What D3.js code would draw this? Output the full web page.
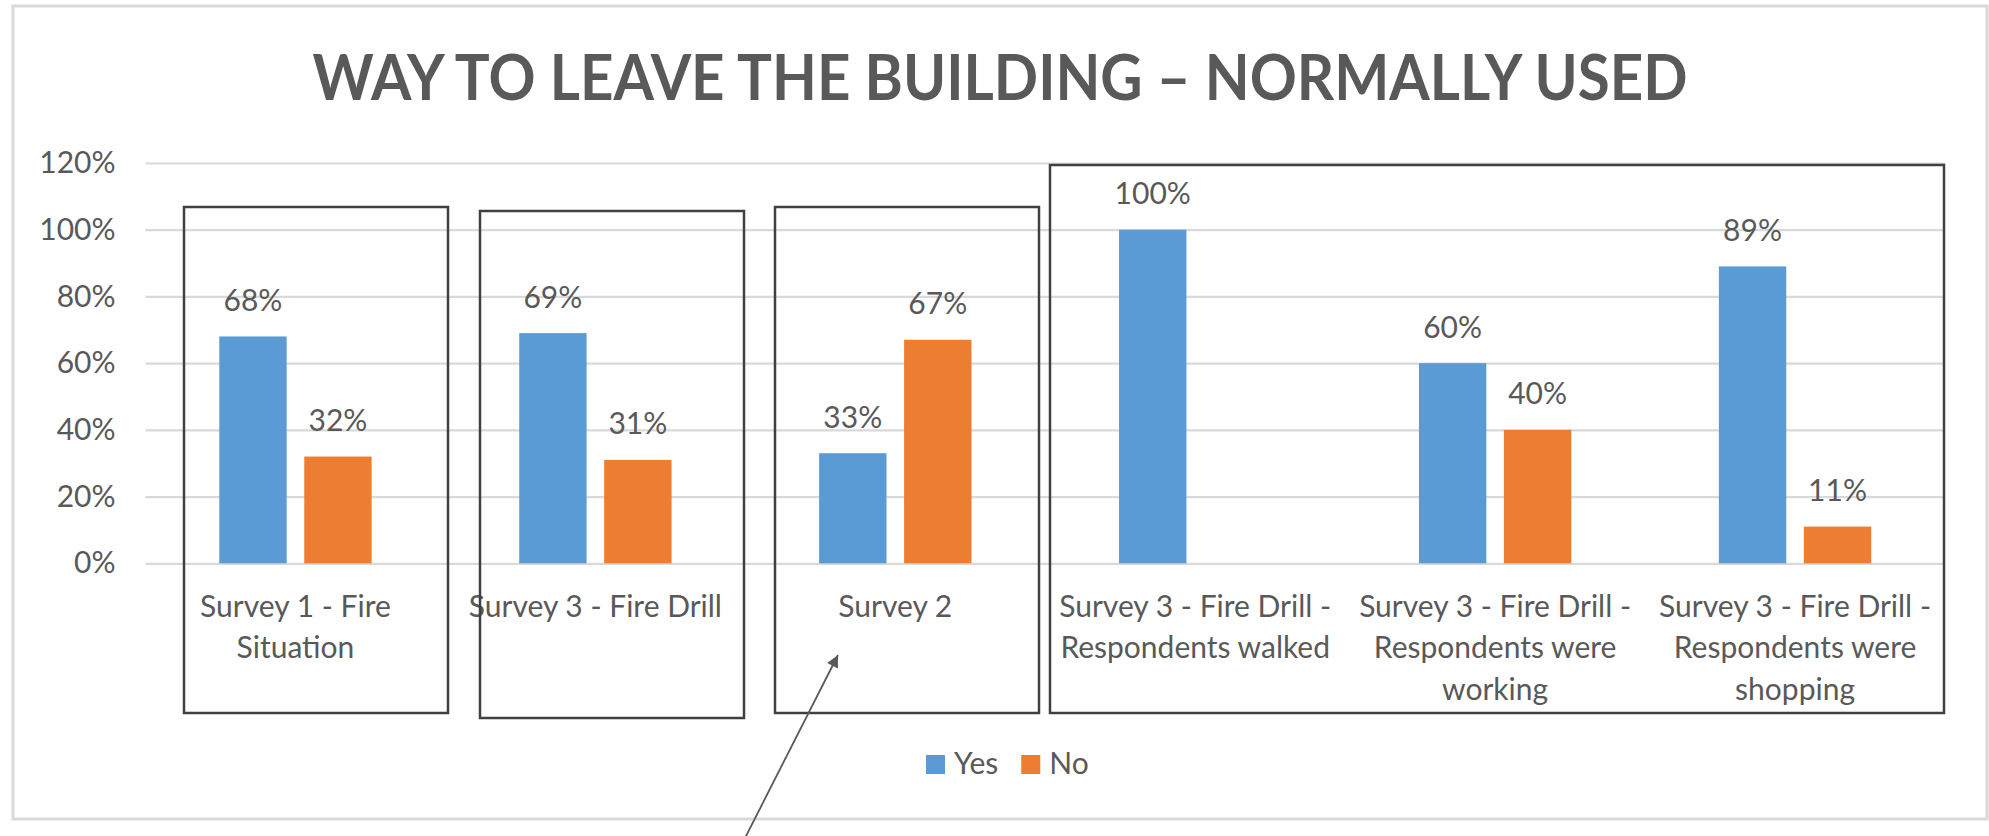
<!DOCTYPE html>
<html>
<head>
<meta charset="utf-8">
<script src="https://cdn.jsdelivr.net/npm/d3@7"></script>
<style>
  html, body { margin: 0; padding: 0; background: #fff; }
  svg { display: block; }
</style>
</head>
<body>
<svg id="chart"></svg>
<script>
const title = "WAY TO LEAVE THE BUILDING \u2013 NORMALLY USED";
const categories = [
  "Survey 1 - Fire\nSituation",
  "Survey 3 - Fire Drill",
  "Survey 2",
  "Survey 3 - Fire Drill -\nRespondents walked",
  "Survey 3 - Fire Drill -\nRespondents were\nworking",
  "Survey 3 - Fire Drill -\nRespondents were\nshopping"
];
const seriesNames = ["Yes", "No"];
const yesValues = [0.68, 0.69, 0.33, 1.00, 0.60, 0.89];
const noValues = [0.32, 0.31, 0.67, null, 0.40, 0.11];
const yTicks = [0, 0.2, 0.4, 0.6, 0.8, 1.0, 1.2];

const colors = { Yes: "#5B9BD5", No: "#ED7D31" };
const textColor = "#595959";
const fontFamily = "Lato, 'Open Sans', sans-serif";

const width = 1989, height = 836;
const plot = { left: 145.5, right: 1945, top: 163, bottom: 563.3 };

// boxes and arrow drawn by hand over the chart: [x0, y0, x1, y1]
const boxes = [
  [184, 207, 448, 713],
  [480, 211, 744, 718],
  [775, 207, 1039, 713],
  [1050, 165, 1944, 713]
];
const arrowLine = [744, 840, 838, 655];

const rows = categories.map((c, i) => ({
  category: c,
  values: [
    { key: "Yes", value: yesValues[i] },
    { key: "No", value: noValues[i] }
  ]
}));

const svg = d3.select("#chart")
  .attr("width", width)
  .attr("height", height)
  .style("font-family", fontFamily);

svg.append("rect")
  .attr("x", 13).attr("y", 6)
  .attr("width", 1974).attr("height", 813)
  .attr("fill", "#fff")
  .attr("stroke", "#d9d9d9")
  .attr("stroke-width", 3);

svg.append("text")
  .attr("x", 1000)
  .attr("y", 100)
  .attr("text-anchor", "middle")
  .attr("font-size", 63)
  .attr("font-weight", "bold")
  .attr("fill", textColor)
  .attr("textLength", 1375)
  .attr("lengthAdjust", "spacingAndGlyphs")
  .text(title);

const x0 = d3.scaleBand()
  .domain(categories)
  .range([plot.left, plot.right]);
const groupWidth = x0.bandwidth() * 0.508;
const x1 = d3.scaleBand()
  .domain(seriesNames)
  .range([0, groupWidth])
  .paddingInner(0.207);
const y = d3.scaleLinear()
  .domain([0, 1.2])
  .range([plot.bottom, plot.top]);

const yAxis = svg.append("g")
  .attr("transform", `translate(${plot.left},0)`)
  .call(d3.axisLeft(y)
    .tickValues(yTicks)
    .tickFormat(d3.format(".0%"))
    .tickSize(-(plot.right - plot.left))
    .tickPadding(30));
yAxis.select(".domain").remove();
yAxis.selectAll(".tick line")
  .attr("stroke", "#d9d9d9")
  .attr("stroke-width", 2.2);
yAxis.selectAll(".tick text")
  .attr("font-family", fontFamily)
  .attr("font-size", 30)
  .attr("fill", textColor);

const groups = svg.append("g")
  .selectAll("g")
  .data(rows)
  .join("g")
  .attr("transform", d => `translate(${x0(d.category) + (x0.bandwidth() - groupWidth) / 2},0)`);

groups.selectAll("rect")
  .data(d => d.values.filter(v => v.value !== null))
  .join("rect")
  .attr("x", d => x1(d.key))
  .attr("y", d => y(d.value))
  .attr("width", x1.bandwidth())
  .attr("height", d => y(0) - y(d.value))
  .attr("fill", d => colors[d.key]);

groups.selectAll("text")
  .data(d => d.values.filter(v => v.value !== null))
  .join("text")
  .attr("x", d => x1(d.key) + x1.bandwidth() / 2)
  .attr("y", d => y(d.value) - 25.5)
  .attr("text-anchor", "middle")
  .attr("font-size", 30)
  .attr("fill", textColor)
  .text(d => d3.format(".0%")(d.value));

// category labels, wrapped as in the original
const catLabels = svg.append("g")
  .selectAll("text")
  .data(categories)
  .join("text")
  .attr("x", d => x0(d) + x0.bandwidth() / 2)
  .attr("y", 616.7)
  .attr("text-anchor", "middle")
  .attr("font-size", 30)
  .attr("fill", textColor);
catLabels.selectAll("tspan")
  .data(d => d.split("\n"))
  .join("tspan")
  .attr("x", function () { return this.parentNode.getAttribute("x"); })
  .attr("dy", (d, i) => i === 0 ? 0 : 41.7)
  .text(d => d);

// legend
const legend = svg.append("g");
let lx = 926;
seriesNames.forEach(name => {
  legend.append("rect")
    .attr("x", lx).attr("y", 755)
    .attr("width", 19).attr("height", 19)
    .attr("fill", colors[name]);
  const t = legend.append("text")
    .attr("x", lx + 28)
    .attr("y", 774)
    .attr("font-size", 30)
    .attr("fill", textColor)
    .text(name);
  lx += 28 + t.node().getComputedTextLength() + 23;
});

// annotations
svg.append("g")
  .selectAll("rect")
  .data(boxes)
  .join("rect")
  .attr("x", d => d[0])
  .attr("y", d => d[1])
  .attr("width", d => d[2] - d[0])
  .attr("height", d => d[3] - d[1])
  .attr("fill", "none")
  .attr("stroke", "#404040")
  .attr("stroke-width", 2.5);

svg.append("defs")
  .append("marker")
  .attr("id", "arrowhead")
  .attr("viewBox", "0 -5 10 10")
  .attr("refX", 10)
  .attr("refY", 0)
  .attr("orient", "auto")
  .attr("markerUnits", "userSpaceOnUse")
  .attr("markerWidth", 16)
  .attr("markerHeight", 12)
  .append("path")
  .attr("d", "M0,-5L10,0L0,5Z")
  .attr("fill", "#595959");

svg.append("line")
  .attr("x1", arrowLine[0]).attr("y1", arrowLine[1])
  .attr("x2", arrowLine[2]).attr("y2", arrowLine[3])
  .attr("stroke", "#595959")
  .attr("stroke-width", 1.8)
  .attr("marker-end", "url(#arrowhead)");
</script>
</body>
</html>
